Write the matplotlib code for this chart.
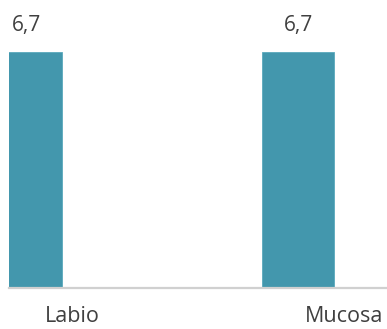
import numpy as np
import matplotlib.pyplot as plt

categories = ['Labio', 'Mucosa']
values = [6.7, 6.7]
value_labels = ['6,7', '6,7']

plt.rcParams['font.family'] = ['Open Sans', 'DejaVu Sans']

fig = plt.figure(figsize=[3.87, 3.29], dpi=100)
# axes: left edge at 9 px, bottom at 288 px, top at the figure top
ax = fig.add_axes([9/387, (329-288)/329, 1 - 9/387, 288/329])

x = np.arange(len(categories))
bars = ax.bar(x, values, width=0.268, color='#4397ad', edgecolor='#5aa9bd', linewidth=0.6)

for b, lab in zip(bars, value_labels):
    ax.annotate(lab, (b.get_x() + b.get_width()/2, b.get_height()),
                xytext=(0, 19), textcoords='offset points',
                ha='center', va='center', fontsize=15, color='#404040')

ax.set_xlim(-0.0625, 1.327)
ax.set_ylim(0, 8.18)
ax.set_xticks(x + 0.169)
ax.set_xticklabels(categories, fontsize=15.5, color='#404040')
ax.tick_params(axis='x', length=0, pad=13)
ax.set_yticks([])
for s in ['top', 'right', 'left']:
    ax.spines[s].set_visible(False)
ax.spines['bottom'].set_color('#d0d0d0')
ax.spines['bottom'].set_linewidth(1.6)

fig.savefig('out.png', dpi=100)
plt.close()
